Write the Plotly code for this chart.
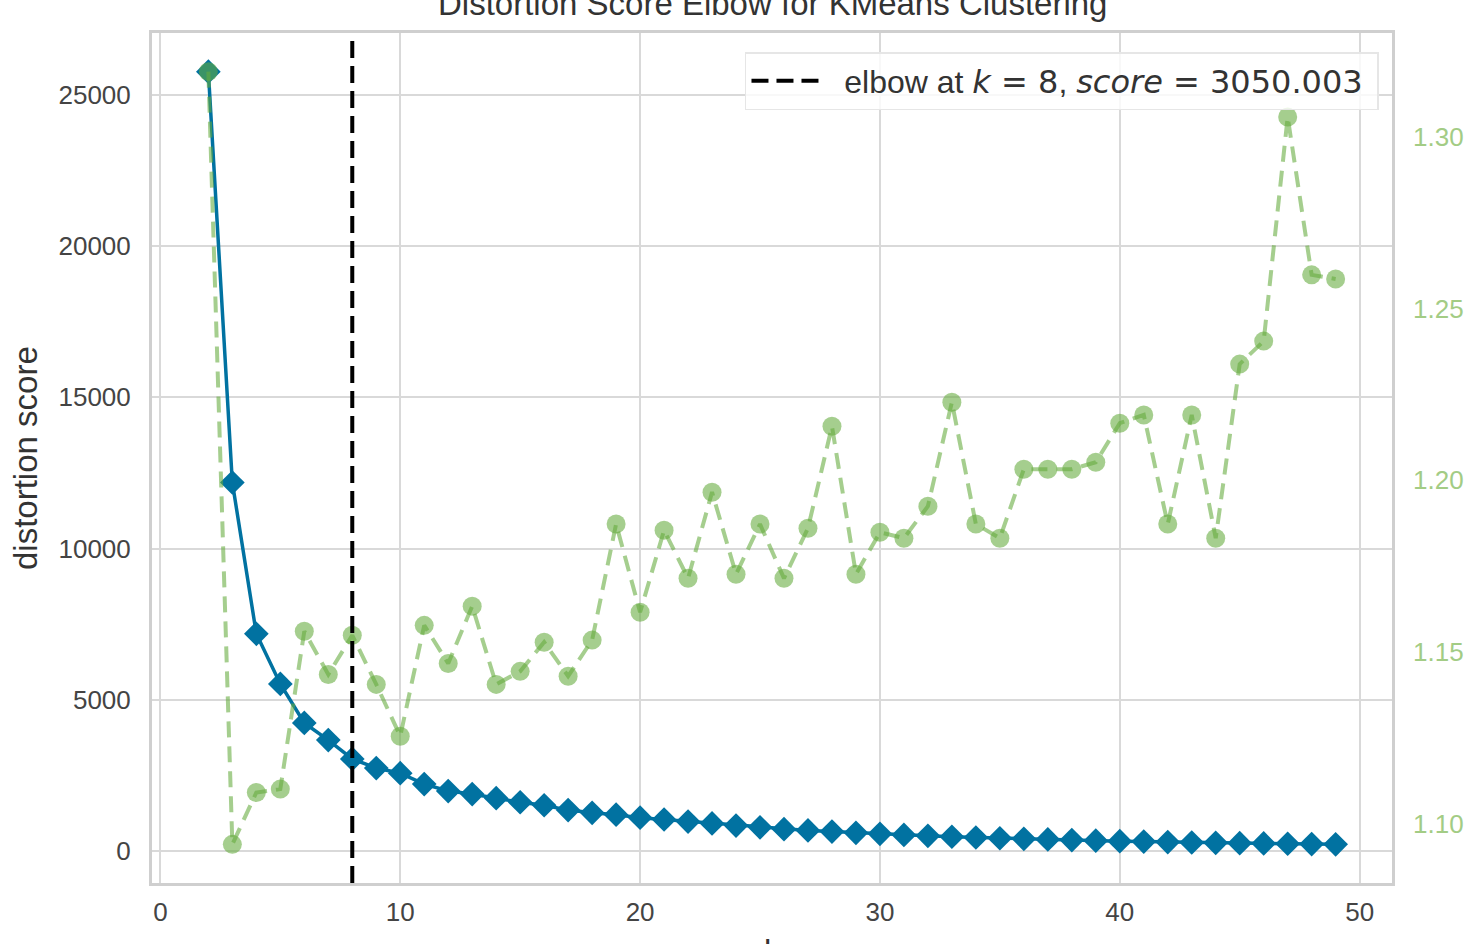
import plotly.graph_objects as go

# ---- data ----
k_values = list(range(2, 50))
distortion_scores = [25760, 12185, 7185, 5530, 4240, 3675, 3050.003, 2750, 2580, 2220,
                     1990, 1890, 1755, 1620, 1520, 1360, 1270, 1210, 1110, 1050,
                     980, 920, 850, 790, 730, 690, 650, 610, 575, 540,
                     510, 480, 455, 430, 410, 390, 370, 350, 335, 320,
                     305, 290, 280, 268, 258, 248, 238, 228]
fit_times = [1.319, 1.0939, 1.109, 1.110, 1.156, 1.1434, 1.1548, 1.1405, 1.1254, 1.1577,
             1.1466, 1.1633, 1.1405, 1.1443, 1.1528, 1.1429, 1.1534, 1.1872, 1.1615, 1.1854,
             1.1714, 1.1965, 1.1726, 1.1872, 1.1714, 1.1860, 1.2157, 1.1726, 1.1848, 1.1831,
             1.1924, 1.2227, 1.1872, 1.1831, 1.2032, 1.2032, 1.2032, 1.2052, 1.2166, 1.2190,
             1.1872, 1.2190, 1.1831, 1.2338, 1.2405, 1.3058, 1.2598, 1.2586]
elbow_k = 8
elbow_score = 3050.003
x_ticks = [0, 10, 20, 30, 40, 50]
y_ticks = [0, 5000, 10000, 15000, 20000, 25000]
y2_ticks = [1.10, 1.15, 1.20, 1.25, 1.30]
title_text = "Distortion Score Elbow for KMeans Clustering"
x_label = "k"
y_label = "distortion score"

FONT = "Liberation Sans, Arial, sans-serif"
MATH = "font-family:DejaVu Sans"
BLUE = "#0172A1"
GREEN = "rgba(100,170,60,0.58)"
GRID = "#d9d9d9"

fig = go.Figure()
fig.add_trace(go.Scatter(
    x=k_values, y=distortion_scores, mode="lines+markers",
    line=dict(color=BLUE, width=3.5),
    marker=dict(symbol="diamond", size=19, color=BLUE),
    showlegend=False, yaxis="y"))
fig.add_trace(go.Scatter(
    x=k_values, y=fit_times, mode="lines+markers",
    line=dict(color=GREEN, width=4, dash="16px,9px"),
    marker=dict(symbol="circle", size=19, color=GREEN),
    showlegend=False, yaxis="y2"))

legend_label = ("\u00a0\u00a0elbow at "
                f"<span style='{MATH}'><i>k</i> = {elbow_k}</span>, "
                f"<span style='{MATH}'><i>score</i> = {elbow_score:.3f}</span>\u00a0")
fig.add_shape(type="line", xref="x", yref="paper", x0=elbow_k, x1=elbow_k, y0=0, y1=1,
              line=dict(color="black", width=4, dash="17px,8px"),
              showlegend=True, name=legend_label)

ymin = min(distortion_scores); ymax = max(distortion_scores)
pad = 0.05 * (ymax - ymin)
y2min = min(fit_times); y2max = max(fit_times)
pad2 = 0.05 * (y2max - y2min)

fig.update_layout(
    width=1476, height=944,
    margin=dict(l=152, r=84, t=33, b=61, pad=0),
    paper_bgcolor="white", plot_bgcolor="white",
    font=dict(family=FONT, size=26, color="#444444"),
    xaxis=dict(range=[-0.35, 51.35], tickvals=x_ticks, showgrid=True, gridcolor=GRID,
               gridwidth=1.5, zeroline=False, showline=True, mirror=True,
               linecolor="#cfcfcf", linewidth=3, ticks="", ticklabelstandoff=4,
               tickfont=dict(size=26, color="#444444")),
    yaxis=dict(range=[ymin - pad, ymax + pad], tickvals=y_ticks,
               ticktext=[str(v) for v in y_ticks], showgrid=True,
               gridcolor=GRID, gridwidth=1.5, zeroline=False, showline=True, mirror=True,
               linecolor="#cfcfcf", linewidth=3, ticks="", ticklabelstandoff=13,
               tickfont=dict(size=26, color="#444444")),
    yaxis2=dict(range=[y2min - pad2, y2max + pad2], tickvals=y2_ticks,
                ticktext=[f"{v:.2f}" for v in y2_ticks],
                overlaying="y", side="right", showgrid=False, zeroline=False,
                showline=False, ticks="", ticklabelstandoff=20,
                tickfont=dict(size=26, color="#A3CC85")),
    legend=dict(x=0.9895, y=0.9776, xanchor="right", yanchor="top",
                bgcolor="rgba(255,255,255,0.8)", bordercolor="#e6e6e6", borderwidth=1.5,
                font=dict(family=FONT, size=32, color="#333333"), itemwidth=70),
    annotations=[
        dict(text=title_text, xref="paper", yref="paper", x=0.5, y=(883 - 24) / 850,
             xanchor="center", yanchor="bottom", showarrow=False,
             font=dict(family=FONT, size=33, color="#333333")),
        dict(text=x_label, xref="paper", yref="paper", x=0.5, y=-0.08,
             xanchor="center", yanchor="middle", showarrow=False,
             font=dict(family=FONT, size=33, color="#333333")),
        dict(text=y_label, xref="paper", yref="paper", x=(25 - 152) / 1240, y=0.5,
             xanchor="center", yanchor="middle", textangle=-90, showarrow=False,
             font=dict(family=FONT, size=33, color="#333333")),
    ],
)

fig.write_html("out.html", config={"displayModeBar": False},
               post_script="document.body.style.margin='0';")
